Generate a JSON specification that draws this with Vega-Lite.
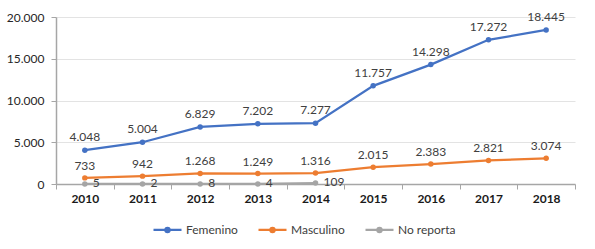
{
  "$schema": "https://vega.github.io/schema/vega-lite/v6.json",
  "width": 519,
  "height": 167,
  "autosize": {"type": "none"},
  "padding": {"left": 56, "top": 17, "right": 20, "bottom": 65},
  "background": "white",
  "config": {
    "view": {"stroke": null},
    "font": "Lato",
    "locale": {"number": {"decimal": ",", "thousands": ".", "grouping": [3], "currency": ["$", ""]}}
  },
  "data": {
    "values": [
      {"anio": "2010", "serie": "Femenino", "valor": 4048},
      {"anio": "2011", "serie": "Femenino", "valor": 5004},
      {"anio": "2012", "serie": "Femenino", "valor": 6829},
      {"anio": "2013", "serie": "Femenino", "valor": 7202},
      {"anio": "2014", "serie": "Femenino", "valor": 7277},
      {"anio": "2015", "serie": "Femenino", "valor": 11757},
      {"anio": "2016", "serie": "Femenino", "valor": 14298},
      {"anio": "2017", "serie": "Femenino", "valor": 17272},
      {"anio": "2018", "serie": "Femenino", "valor": 18445},
      {"anio": "2010", "serie": "Masculino", "valor": 733},
      {"anio": "2011", "serie": "Masculino", "valor": 942},
      {"anio": "2012", "serie": "Masculino", "valor": 1268},
      {"anio": "2013", "serie": "Masculino", "valor": 1249},
      {"anio": "2014", "serie": "Masculino", "valor": 1316},
      {"anio": "2015", "serie": "Masculino", "valor": 2015},
      {"anio": "2016", "serie": "Masculino", "valor": 2383},
      {"anio": "2017", "serie": "Masculino", "valor": 2821},
      {"anio": "2018", "serie": "Masculino", "valor": 3074},
      {"anio": "2010", "serie": "No reporta", "valor": 5},
      {"anio": "2011", "serie": "No reporta", "valor": 2},
      {"anio": "2012", "serie": "No reporta", "valor": 8},
      {"anio": "2013", "serie": "No reporta", "valor": 4},
      {"anio": "2014", "serie": "No reporta", "valor": 109}
    ]
  },
  "encoding": {
    "x": {
      "field": "anio", "type": "nominal",
      "scale": {"type": "band", "paddingInner": 0, "paddingOuter": 0},
      "axis": {
        "title": null, "labelAngle": 0, "tickBand": "extent",
        "domainColor": "#A6A6A6", "domainWidth": 1.5,
        "tickColor": "#A6A6A6", "tickSize": 5, "tickWidth": 1,
        "labelFont": "Lato", "labelFontSize": 12, "labelFontWeight": "bold",
        "labelColor": "#1a1a1a", "labelPadding": 4, "grid": false
      }
    },
    "y": {
      "field": "valor", "type": "quantitative",
      "scale": {"domain": [0, 20000], "nice": false},
      "axis": {
        "title": null, "values": [0, 5000, 10000, 15000, 20000], "format": ",.0f",
        "domainColor": "#A6A6A6", "domainWidth": 1.5,
        "tickColor": "#A6A6A6", "tickSize": 5,
        "gridColor": "#E3E3E3", "gridWidth": 1,
        "labelFont": "Lato", "labelFontSize": 12, "labelColor": "#262626", "labelPadding": 7
      }
    }
  },
  "layer": [
    {
      "mark": {"type": "line", "strokeWidth": 2.25, "point": {"filled": true, "size": 30}},
      "encoding": {
        "color": {
          "field": "serie", "type": "nominal",
          "scale": {"domain": ["Femenino", "Masculino", "No reporta"], "range": ["#4472C4", "#ED7D31", "#A5A5A5"]},
          "legend": {
            "title": null, "orient": "none", "direction": "horizontal",
            "legendX": 96, "legendY": 197, "padding": 0,
            "symbolType": "M-1,0H1M-0.15,0A0.15,0.15 0 1,1 0.15,0A0.15,0.15 0 1,1 -0.15,0Z",
            "symbolSize": 784, "symbolStrokeWidth": 2.25,
            "labelFont": "Lato", "labelFontSize": 12, "labelColor": "#404040",
            "labelOffset": 3, "columnPadding": 16,
            "encode": {"symbols": {"update": {"fill": {"scale": "color", "field": "value"}}}}
          }
        }
      }
    },
    {
      "transform": [{"filter": "datum.serie == 'Femenino'"}],
      "mark": {"type": "text", "dy": -13, "fontSize": 12, "font": "Lato", "color": "#404040", "baseline": "middle"},
      "encoding": {"text": {"field": "valor", "type": "quantitative", "format": ",.0f"}}
    },
    {
      "transform": [{"filter": "datum.serie == 'Masculino'"}],
      "mark": {"type": "text", "dy": -12, "fontSize": 12, "font": "Lato", "color": "#404040", "baseline": "middle"},
      "encoding": {"text": {"field": "valor", "type": "quantitative", "format": ",.0f"}}
    },
    {
      "transform": [{"filter": "datum.serie == 'No reporta'"}],
      "mark": {"type": "text", "dx": 8, "dy": -1, "align": "left", "fontSize": 12, "font": "Lato", "color": "#404040", "baseline": "middle"},
      "encoding": {"text": {"field": "valor", "type": "quantitative", "format": ",.0f"}}
    }
  ]
}
